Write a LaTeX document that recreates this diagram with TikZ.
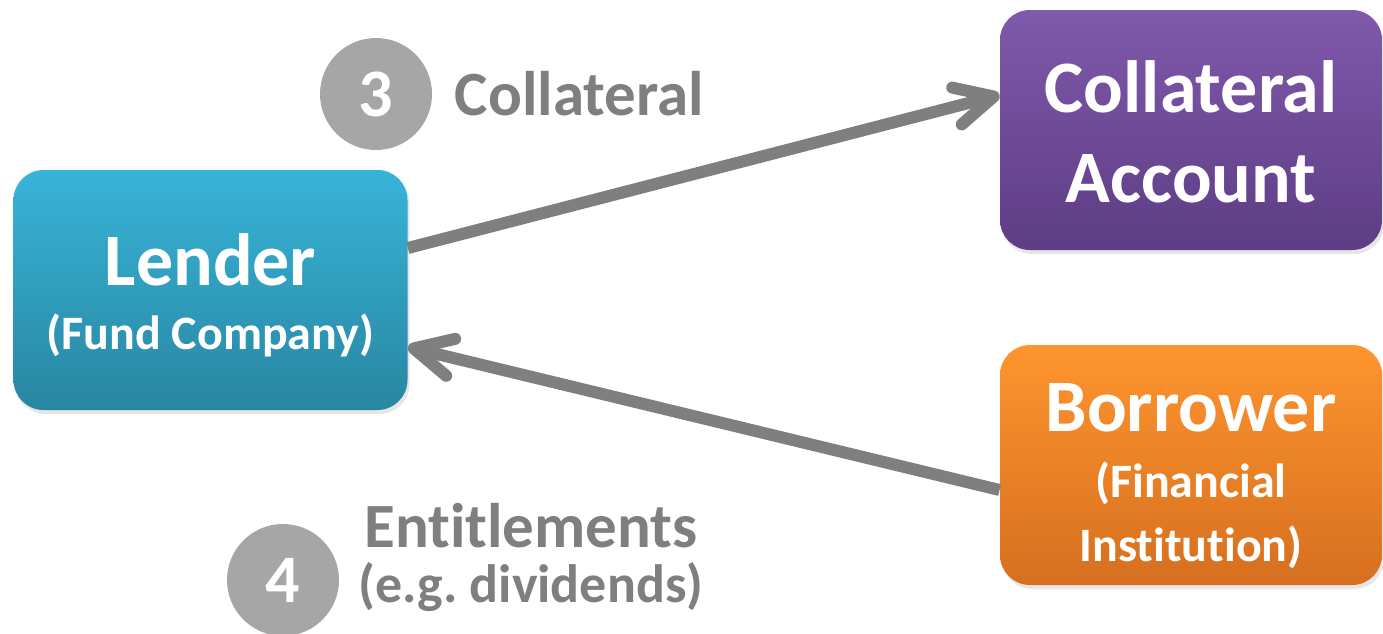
\documentclass[tikz,border=0pt]{standalone}
\usepackage{fontspec}
\setmainfont{Carlito}[Ligatures=NoCommon]
\usetikzlibrary{arrows.meta, positioning, shadows}

\definecolor{lenderTop}{HTML}{38B4D8}
\definecolor{lenderBot}{HTML}{2886A1}
\definecolor{accountTop}{HTML}{7F59AB}
\definecolor{accountBot}{HTML}{5D3D84}
\definecolor{borrowerTop}{HTML}{FE952F}
\definecolor{borrowerBot}{HTML}{D66F1F}
\definecolor{flowGray}{HTML}{7F7F7F}
\definecolor{badgeGray}{HTML}{A6A6A6}

\newcommand{\subsize}{\fontsize{24}{20.5}\selectfont}

\begin{document}
\begin{tikzpicture}[
    x=0.5pt, y=-0.5pt,
    party/.style={
        rectangle,
        rounded corners=15pt,
        minimum width=197pt,
        minimum height=120pt,
        text depth=0pt,
        align=center,
        text=white,
        font=\bfseries\fontsize{37}{32}\selectfont,
        drop shadow={shadow xshift=1pt, shadow yshift=-2pt, opacity=0.2}
    },
    badge/.style={
        circle,
        fill=badgeGray,
        minimum size=56pt,
        inner sep=0pt,
        text=white,
        font=\bfseries\fontsize{34}{34}\selectfont
    },
    tag/.style={
        inner sep=0pt,
        align=center,
        text=flowGray,
        font=\bfseries\fontsize{31.5}{27.5}\selectfont
    },
    arrow/.style={
        line width=6pt,
        draw=flowGray,
        -{Straight Barb[length=19pt, width=19pt, round]}
    }
]
    \useasboundingbox (0,0) rectangle (1383,633);

    % Nodes
    \node [party, top color=lenderTop, bottom color=lenderBot] (lender) at (210.5,290)
        {\rule{0pt}{27pt}Lender\\ \subsize (Fund Company)};
    \node [party, top color=accountTop, bottom color=accountBot, minimum width=191pt] (account) at (1191,130)
        {\rule{0pt}{27pt}Collateral\\[13pt]Account};
    \node [party, top color=borrowerTop, bottom color=borrowerBot, minimum width=191pt] (borrower) at (1191,465)
        {\rule{0pt}{31pt}Borrower\\[1pt]\subsize (Financial\\ \subsize Institution)};

    \node [badge] (badge3) at (376,94) {3};
    \node [tag, right=11pt of badge3] (coll) {Collateral};

    \node [badge] (badge4) at (283,580) {4};
    \node [tag] (ent) at (531,557)
        {Entitlements\\ \fontsize{27}{27.5}\selectfont (e.g.\ dividends)};

    % Arrows
    \draw [arrow] ([yshift=21pt]lender.east) -- ([yshift=17.5pt]account.west);
    \draw [arrow] ([yshift=-12.5pt]borrower.west) -- ([yshift=-28.5pt]lender.east);
\end{tikzpicture}
\end{document}
